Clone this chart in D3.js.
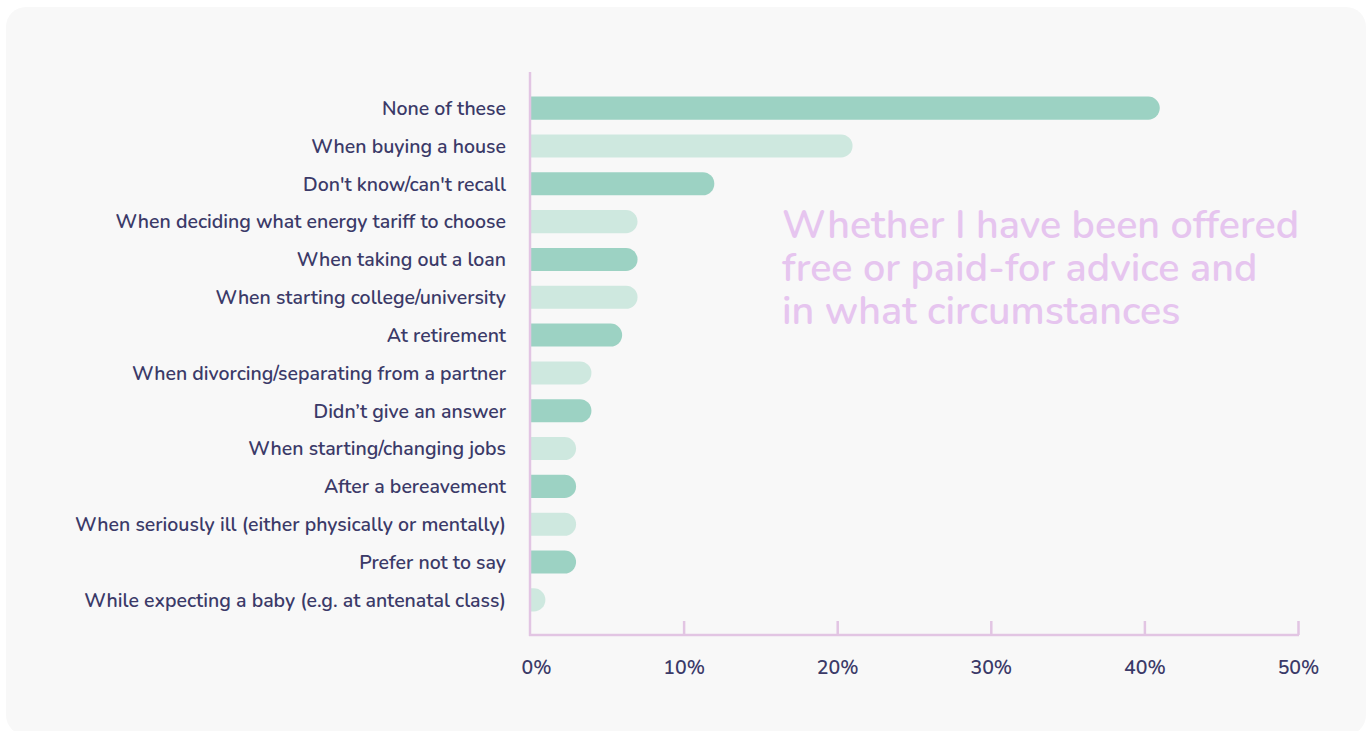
<!DOCTYPE html>
<html>
<head>
<meta charset="utf-8">
<script src="https://cdn.jsdelivr.net/npm/d3@7"></script>
<style>
  html, body { margin: 0; padding: 0; background: #ffffff; }
  svg { display: block; }
  text { font-family: "Nunito", "Lato", "Open Sans", sans-serif; }
</style>
</head>
<body>
<svg id="chart" width="1371" height="731"></svg>
<script>
// Survey answers, top to bottom
const categories = [
  "None of these",
  "When buying a house",
  "Don't know/can't recall",
  "When deciding what energy tariff to choose",
  "When taking out a loan",
  "When starting college/university",
  "At retirement",
  "When divorcing/separating from a partner",
  "Didn’t give an answer",
  "When starting/changing jobs",
  "After a bereavement",
  "When seriously ill (either physically or mentally)",
  "Prefer not to say",
  "While expecting a baby (e.g. at antenatal class)"
];
// Share of respondents, percent
const values = [41, 21, 12, 7, 7, 7, 6, 4, 4, 3, 3, 3, 3, 1];
const tickValues = [0, 10, 20, 30, 40, 50];
const titleLines = [
  "Whether I have been offered",
  "free or paid-for advice and",
  "in what circumstances"
];

const W = 1371, H = 731;
const svg = d3.select("#chart");

// Card background
svg.append("rect")
  .attr("x", 6).attr("y", 7)
  .attr("width", 1360).attr("height", 728)
  .attr("rx", 20).attr("ry", 20)
  .attr("fill", "#f8f8f8");

const x = d3.scaleLinear().domain([0, 50]).range([530, 1298]);
const y = d3.scaleBand()
  .domain(categories)
  .range([89, 619])
  .paddingInner(0.39)
  .paddingOuter(0.2);

const axisColor = "#e2c5e3";
const textColor = "#3b3a68";

// Bars with rounded right end
const barH = y.bandwidth();
const r = barH / 2;
const barPath = (v) => {
  const x0 = x(0), x1 = x(v);
  const w = x1 - x0;
  const rr = Math.min(r, w);
  return `M${x0},0 H${x1 - rr} A${rr},${r} 0 0 1 ${x1 - rr},${barH} H${x0} Z`;
};

svg.append("g").selectAll("path")
  .data(categories)
  .join("path")
  .attr("transform", d => `translate(0,${y(d)})`)
  .attr("d", (d, i) => barPath(values[i]))
  .attr("fill", (d, i) => i % 2 === 0 ? "#9cd2c3" : "#cee8df");

// Category labels
svg.append("g").selectAll("text")
  .data(categories)
  .join("text")
  .attr("x", 506)
  .attr("y", d => y(d) + barH / 2)
  .attr("dy", "0.35em")
  .attr("text-anchor", "end")
  .attr("font-size", 19.5)
  .attr("font-weight", 600)
  .attr("fill", textColor)
  .text(d => d);

// Y axis line
svg.append("line")
  .attr("x1", x(0)).attr("x2", x(0))
  .attr("y1", 72).attr("y2", 636)
  .attr("stroke", axisColor).attr("stroke-width", 2.5);

// X axis with ticks pointing up
const xAxis = d3.axisBottom(x)
  .tickValues(tickValues)
  .tickSize(-14)
  .tickPadding(0)
  .tickFormat(d => d + "%");

const gx = svg.append("g")
  .attr("transform", "translate(0,635)")
  .call(xAxis);
gx.select(".domain").remove();
gx.append("line")
  .attr("x1", x(0) - 1).attr("x2", x(50) + 1)
  .attr("stroke", axisColor).attr("stroke-width", 2.5);
gx.selectAll(".tick line")
  .attr("stroke", axisColor).attr("stroke-width", 2.5)
  .attr("y2", d => d === 0 ? 0 : -14);
gx.selectAll(".tick text")
  .attr("y", 32)
  .attr("dy", "0.35em")
  .attr("dx", d => d === 0 ? 6 : 0)
  .attr("font-size", 19.5)
  .attr("font-weight", 600)
  .attr("fill", textColor);

// Title
svg.append("g").selectAll("text")
  .data(titleLines)
  .join("text")
  .attr("x", 782)
  .attr("y", (d, i) => 238 + i * 42.8)
  .attr("font-size", 39.5)
  .attr("font-weight", 600)
  .attr("fill", "#e6c5ef")
  .text(d => d);
</script>
</body>
</html>
